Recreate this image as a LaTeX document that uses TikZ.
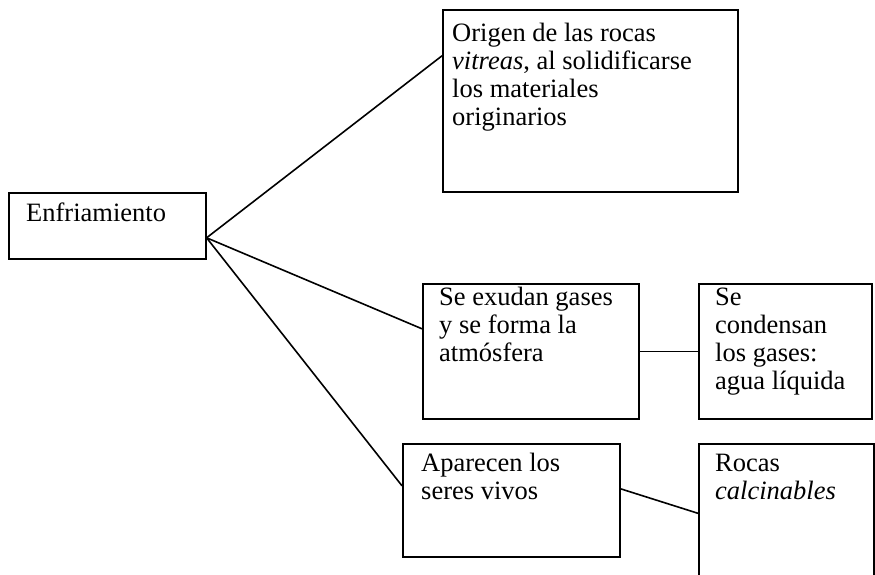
\documentclass[tikz,border=0pt]{standalone}
\usepackage{fontspec}
\setmainfont{Liberation Serif}
\begin{document}
\begin{tikzpicture}[x=1pt,y=-1pt,
  box/.style={draw, line width=1.6pt, rectangle, inner sep=0pt, anchor=north west},
  txt/.style={anchor=north west, inner sep=0pt, align=left, font=\fontsize{26.5}{28.3}\selectfont},
  conn/.style={line width=1.6pt}]
\useasboundingbox (0,0) rectangle (875,574);
% boxes
\node[box, minimum width=197pt, minimum height=66pt] (enf) at (8,192) {};
\node[box, minimum width=295pt, minimum height=182pt] (org) at (442,9) {};
\node[box, minimum width=216pt, minimum height=135pt] (gas) at (422,283) {};
\node[box, minimum width=173pt, minimum height=135pt] (con) at (698,283) {};
\node[box, minimum width=175pt, minimum height=145pt] (roc) at (698,443) {};
\node[box, minimum width=217pt, minimum height=113pt] (apa) at (402,443) {};
% texts
\node[txt] (tenf) at (26,201) {\strut Enfriamiento};
\node[txt] (torg) at (452,21) {\strut Origen de las rocas\\\textit{vitreas}, al solidificarse\\los materiales\\originarios};
\node[txt] (tgas) at (439,285) {\strut Se exudan gases\\y se forma la\\atmósfera};
\node[txt] (tcon) at (715,285) {\strut Se\\condensan\\los gases:\\agua líquida};
\node[txt] (tapa) at (421,451) {\strut Aparecen los\\seres vivos};
\node[txt] (troc) at (715,451) {\strut Rocas\\\textit{calcinables}};
% connectors
\draw[conn] ([yshift=-12pt]enf.east) -- ([yshift=45pt]org.west);
\draw[conn] ([yshift=-12pt]enf.east) -- ([yshift=22.5pt]gas.west);
\draw[conn] ([yshift=-12pt]enf.east) -- ([yshift=14.5pt]apa.west);
\draw[conn] (gas.east) -- (con.west);
\draw[conn] ([yshift=11.5pt]apa.east) -- ([yshift=3pt]roc.west);
\end{tikzpicture}
\end{document}
